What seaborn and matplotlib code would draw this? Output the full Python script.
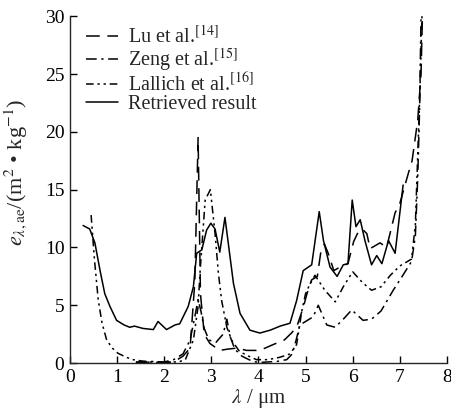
import matplotlib
matplotlib.use('Agg')
import matplotlib.pyplot as plt
import seaborn as sns

# wavelength (um) / extinction values
lu_x = [1.40, 1.80, 2.00, 2.20, 2.40, 2.55, 2.65, 2.72, 2.77, 2.85, 2.97, 3.18, 3.33, 3.54,
        3.75, 4.03, 4.31, 4.55, 4.70, 4.81, 4.95, 5.03, 5.13, 5.25, 5.32, 5.40, 5.48, 5.60,
        5.73, 5.90, 6.02, 6.10, 6.20, 6.30, 6.37, 6.58, 6.72, 6.90, 7.00, 7.18, 7.26, 7.38,
        7.45, 7.48]
lu_y = [0.05, 0.1, 0.05, 0.1, 0.6, 1.3, 7.0, 19.5, 6.0, 2.5, 1.7, 1.1, 1.2, 1.3,
        1.1, 1.1, 1.6, 2.0, 2.6, 3.1, 4.8, 6.0, 7.2, 7.5, 9.5, 10.3, 9.5, 8.0,
        8.3, 8.6, 10.5, 11.2, 11.6, 11.2, 9.9, 10.4, 10.0, 13.0, 13.8, 16.4, 17.5, 21.0,
        25.0, 30.0]

zeng_x = [1.40, 1.70, 2.00, 2.20, 2.40, 2.55, 2.65, 2.72, 2.78, 2.85, 2.95, 3.10, 3.25, 3.33,
          3.40, 3.50, 3.65, 3.85, 4.00, 4.20, 4.40, 4.60, 4.72, 4.80, 4.88, 5.16, 5.27, 5.45,
          5.63, 5.80, 5.98, 6.22, 6.40, 6.60, 6.86, 7.05, 7.25, 7.33, 7.38, 7.42, 7.45]
zeng_y = [0.1, 0.15, 0.1, 0.3, 0.8, 2.0, 4.0, 5.5, 4.5, 3.0, 2.0, 1.8, 2.5, 3.8,
          2.3, 1.2, 0.6, 0.2, 0.05, 0.1, 0.15, 0.3, 0.8, 2.0, 3.3, 4.0, 5.0, 3.3,
          3.1, 3.8, 4.6, 3.7, 3.8, 4.5, 6.3, 7.5, 8.8, 11.0, 16.0, 22.0, 30.0]

lal_x = [0.45, 0.52, 0.60, 0.68, 0.78, 0.90, 1.02, 1.20, 1.34, 1.50, 1.70, 1.90, 2.10, 2.30,
         2.45, 2.62, 2.72, 2.76, 2.83, 2.87, 2.98, 3.08, 3.15, 3.22, 3.33, 3.43, 3.60, 3.82,
         3.96, 4.20, 4.45, 4.67, 4.81, 4.92, 5.00, 5.10, 5.20, 5.41, 5.63, 5.80, 6.00, 6.20,
         6.40, 6.60, 6.80, 7.00, 7.25, 7.33, 7.38, 7.43, 7.47]
lal_y = [12.8, 9.0, 5.5, 3.5, 2.0, 1.3, 0.85, 0.5, 0.3, 0.2, 0.1, 0.05, 0.1, 0.1,
         0.3, 2.0, 4.9, 7.8, 11.8, 14.1, 15.0, 11.2, 7.8, 5.4, 3.1, 2.0, 1.0, 0.55,
         0.3, 0.3, 0.5, 0.8, 1.6, 4.5, 6.0, 6.9, 7.6, 6.3, 5.3, 6.6, 7.9, 7.0,
         6.3, 6.6, 7.6, 8.4, 9.0, 12.0, 18.0, 24.0, 30.0]

ret_x = [0.28, 0.42, 0.53, 0.64, 0.74, 0.85, 0.99, 1.15, 1.27, 1.37, 1.55, 1.77, 1.87, 2.05,
         2.23, 2.33, 2.51, 2.62, 2.69, 2.80, 2.90, 2.99, 3.08, 3.18, 3.29, 3.47, 3.61, 3.82,
         4.03, 4.25, 4.46, 4.67, 4.81, 4.95, 5.13, 5.29, 5.38, 5.52, 5.67, 5.80, 5.90, 5.99,
         6.07, 6.16, 6.26, 6.40, 6.51, 6.62, 6.76, 6.90, 7.07]
ret_y = [11.9, 11.6, 10.4, 8.0, 6.0, 4.9, 3.7, 3.3, 3.1, 3.2, 3.0, 2.9, 3.6, 2.9,
         3.3, 3.4, 4.9, 6.6, 9.5, 9.8, 11.5, 12.1, 11.6, 9.6, 12.6, 6.9, 4.3, 2.85,
         2.6, 2.85, 3.2, 3.45, 5.4, 8.0, 8.5, 13.1, 10.6, 8.3, 7.5, 8.5, 8.6, 14.1,
         11.8, 12.4, 10.6, 8.5, 9.3, 8.6, 10.6, 9.5, 15.4]

labels = ['Lu et al.$^{[14]}$', 'Zeng et al.$^{[15]}$', 'Lallich et al.$^{[16]}$', 'Retrieved result']

sns.set_style('ticks')
plt.rcParams['font.family'] = ['Liberation Serif', 'DejaVu Serif']
plt.rcParams['mathtext.fontset'] = 'stix'

fig = plt.figure(figsize=(4.51, 4.15), dpi=100)
ax = fig.add_axes([0.155, 0.125, 0.836, 0.836])

series = [(lu_x, lu_y, (0, (9, 5))),
          (zeng_x, zeng_y, (0, (7, 3, 1.5, 3))),
          (lal_x, lal_y, (0, (5, 2.5, 1.5, 2.5, 1.5, 2.5))),
          (ret_x, ret_y, '-')]
for (xs, ys, ls), lab in zip(series, labels):
    sns.lineplot(x=xs, y=ys, ax=ax, color='black', lw=1.1, linestyle=ls,
                 label=lab, sort=False, estimator=None)

ax.set_xlim(0, 8)
ax.set_ylim(0, 30)
ax.set_xticks(range(0, 9))
ax.set_yticks(range(0, 31, 5))
sns.despine(ax=ax)
for s in ['left', 'bottom']:
    ax.spines[s].set_linewidth(1.0)
ax.tick_params(direction='in', length=5, width=1.0, labelsize=14, pad=4, colors='black')

ax.set_xlabel(r'$\lambda$ / μm', fontsize=15, labelpad=1)
ax.set_ylabel(r'$e_{\lambda,\mathrm{ae}}$/(m$^2$ • kg$^{-1}$)', fontsize=16)
ax.yaxis.set_label_coords(-0.108, 0.55)

ax.legend(loc='upper left', bbox_to_anchor=(0.042, 0.972), frameon=False, fontsize=14.5,
          handlelength=1.6, labelspacing=-0.05, handletextpad=0.5, borderaxespad=0,
          borderpad=0)

fig.savefig('out.png', dpi=100)
